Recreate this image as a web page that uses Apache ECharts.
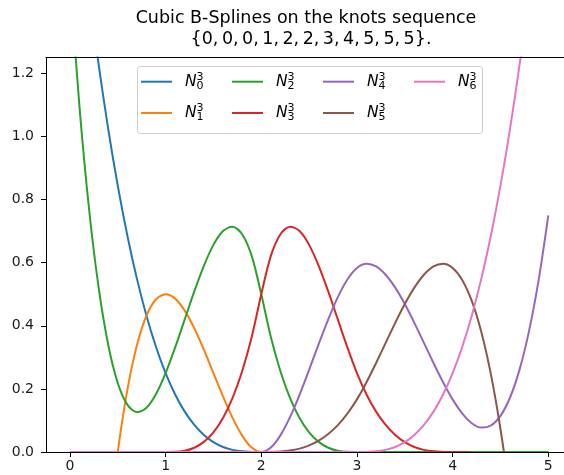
<!DOCTYPE html>
<html>
<head>
<meta charset="utf-8">
<script src="https://cdn.jsdelivr.net/npm/echarts@6/dist/echarts.min.js"></script>
<style>
  html, body { margin: 0; padding: 0; background: #ffffff; }
  #chart { width: 564px; height: 475px; }
</style>
</head>
<body>
<div id="chart"></div>
<script>
// Sample positions along the parameter axis
const xs = [0.0, 0.1, 0.2, 0.3, 0.4, 0.5, 0.6, 0.7, 0.8, 0.9,
            1.0, 1.1, 1.2, 1.3, 1.4, 1.5, 1.6, 1.7, 1.8, 1.9,
            2.0, 2.1, 2.2, 2.3, 2.4, 2.5, 2.6, 2.7, 2.8, 2.9,
            3.0, 3.1, 3.2, 3.3, 3.4, 3.5, 3.6, 3.7, 3.8, 3.9,
            4.0, 4.1, 4.2, 4.3, 4.4, 4.5, 4.6, 4.7, 4.8, 4.9, 5.0];

// Basis function values at each sample position
const n0 = [2.0, 1.7148, 1.458, 1.2283, 1.024, 0.8438, 0.686, 0.5493, 0.432, 0.3328,
            0.25, 0.1823, 0.128, 0.0858, 0.054, 0.0313, 0.016, 0.0068, 0.002, 0.0003,
            0, 0, 0, 0, 0, 0, 0, 0, 0, 0,
            0, 0, 0, 0, 0, 0, 0, 0, 0, 0,
            0, 0, 0, 0, 0, 0, 0, 0, 0, 0, 0];
const n1 = [-2.0, -1.444, -0.972, -0.578, -0.256, 0, 0.196, 0.338, 0.432, 0.484,
            0.5, 0.486, 0.448, 0.392, 0.324, 0.25, 0.176, 0.108, 0.052, 0.014,
            0, 0, 0, 0, 0, 0, 0, 0, 0, 0,
            0, 0, 0, 0, 0, 0, 0, 0, 0, 0,
            0, 0, 0, 0, 0, 0, 0, 0, 0, 0, 0];
const n2 = [1.5, 1.0938, 0.77, 0.5213, 0.34, 0.2188, 0.15, 0.1263, 0.14, 0.1838,
            0.25, 0.3313, 0.42, 0.5088, 0.59, 0.6563, 0.7, 0.7138, 0.69, 0.6213,
            0.5, 0.3645, 0.256, 0.1715, 0.108, 0.0625, 0.032, 0.0135, 0.004, 0.0005,
            0, 0, 0, 0, 0, 0, 0, 0, 0, 0,
            0, 0, 0, 0, 0, 0, 0, 0, 0, 0, 0];
const n3 = [-0.5, -0.3645, -0.256, -0.1715, -0.108, -0.0625, -0.032, -0.0135, -0.004, -0.0005,
            0, 0.0005, 0.004, 0.0135, 0.032, 0.0625, 0.108, 0.1715, 0.256, 0.3645,
            0.5, 0.6213, 0.69, 0.7138, 0.7, 0.6563, 0.59, 0.5088, 0.42, 0.3313,
            0.25, 0.1823, 0.128, 0.0858, 0.054, 0.0313, 0.016, 0.0068, 0.002, 0.0003,
            0, -0.0003, -0.002, -0.0068, -0.016, -0.0313, -0.054, -0.0858, -0.128, -0.1823, -0.25];
const n4 = [0, 0, 0, 0, 0, 0, 0, 0, 0, 0,
            0, 0, 0, 0, 0, 0, 0, 0, 0, 0,
            0, 0.0141, 0.0527, 0.1103, 0.1813, 0.2604, 0.342, 0.4206, 0.4907, 0.5468,
            0.5833, 0.5964, 0.588, 0.5616, 0.5207, 0.4688, 0.4093, 0.3459, 0.282, 0.2211,
            0.1667, 0.1223, 0.0913, 0.0774, 0.084, 0.1146, 0.1727, 0.2618, 0.3853, 0.5469, 0.75];
const n5 = [0, 0, 0, 0, 0, 0, 0, 0, 0, 0,
            0, 0, 0, 0, 0, 0, 0, 0, 0, 0,
            0, 0.0002, 0.0013, 0.0045, 0.0107, 0.0208, 0.036, 0.0572, 0.0853, 0.1215,
            0.1667, 0.2211, 0.282, 0.3459, 0.4093, 0.4688, 0.5207, 0.5616, 0.588, 0.5964,
            0.5833, 0.5453, 0.4787, 0.3801, 0.246, 0.0729, -0.1427, -0.4043, -0.7153, -1.0794, -1.5];
const n6 = [0, 0, 0, 0, 0, 0, 0, 0, 0, 0,
            0, 0, 0, 0, 0, 0, 0, 0, 0, 0,
            0, 0, 0, 0, 0, 0, 0, 0, 0, 0,
            0, 0.0003, 0.002, 0.0068, 0.016, 0.0313, 0.054, 0.0858, 0.128, 0.1823,
            0.25, 0.3328, 0.432, 0.5493, 0.686, 0.8438, 1.024, 1.2283, 1.458, 1.7148, 2.0];

const basisValues = [n0, n1, n2, n3, n4, n5, n6];
const basisIndex = ['0', '1', '2', '3', '4', '5', '6'];
const basisDegree = '3';
const palette = ['#1f77b4', '#ff7f0e', '#2ca02c', '#d62728', '#9467bd', '#8c564b', '#e377c2'];

const xTicks = [0, 1, 2, 3, 4, 5];
const yTicks = [0, 0.2, 0.4, 0.6, 0.8, 1.0, 1.2];

const titleLine1 = 'Cubic B-Splines on the knots sequence';
const titleLine2 = '{0,\u20090,\u20090,\u20091,\u20092,\u20092,\u20093,\u20094,\u20095,\u20095,\u20095}.';

const FONT = "'DejaVu Sans', 'Liberation Sans', sans-serif";

const chart = echarts.init(document.getElementById('chart'), null, { renderer: 'canvas' });

const series = basisValues.map((vals, i) => ({
  name: 'N' + basisIndex[i],
  type: 'line',
  data: xs.map((x, k) => [x, vals[k]]),
  showSymbol: false,
  smooth: 0.3,
  clip: true,
  lineStyle: { color: palette[i], width: 2 },
  itemStyle: { color: palette[i] },
  z: 2 + i * 0.01,
  animation: false
}));

// Legend drawn as graphic elements: 4 columns, filled column by column
const legendLeft = 137, legendTop = 66, legendW = 345, legendH = 67;
const colStart = [141, 232, 323, 414];
const rowY = [81.7, 113];
const legendChildren = [{
  type: 'rect',
  shape: { x: legendLeft + 0.5, y: legendTop + 0.5, width: legendW, height: legendH, r: 3 },
  style: { fill: 'rgba(255,255,255,0.8)', stroke: '#cccccc', lineWidth: 1 },
  z: 100
}];
basisIndex.forEach((idx, i) => {
  const c = Math.floor(i / 2), r = i % 2;
  const x0 = colStart[c], y0 = rowY[r];
  legendChildren.push({
    type: 'line',
    shape: { x1: x0, y1: y0, x2: x0 + 31, y2: y0 },
    style: { stroke: palette[i], lineWidth: 2 },
    z: 101
  });
  legendChildren.push({
    type: 'text', x: x0 + 44, y: y0,
    style: { text: 'N', fontSize: 15.5, fontStyle: 'italic', fontFamily: FONT, fill: '#000',
             align: 'left', verticalAlign: 'middle' },
    z: 101
  });
  legendChildren.push({
    type: 'text', x: x0 + 55.5, y: y0 - 5,
    style: { text: basisDegree, fontSize: 11, fontFamily: FONT, fill: '#000',
             align: 'left', verticalAlign: 'middle' },
    z: 101
  });
  legendChildren.push({
    type: 'text', x: x0 + 55.5, y: y0 + 4,
    style: { text: idx, fontSize: 11, fontFamily: FONT, fill: '#000',
             align: 'left', verticalAlign: 'middle' },
    z: 101
  });
});

// The plotting area runs past the right edge of the canvas, so the visible
// x range ends a little after 5.
const option = {
  animation: false,
  backgroundColor: '#ffffff',
  textStyle: { fontFamily: FONT },
  grid: { left: 46, top: 57.5, right: 0, height: 394.5, show: false, containLabel: false },
  xAxis: [{
    type: 'value', min: -0.25, max: 5.164, position: 'bottom',
    axisLine: { show: true, onZero: false, lineStyle: { color: '#000', width: 1 } },
    axisTick: { show: true, inside: false, length: 5, customValues: xTicks, lineStyle: { color: '#000', width: 1 } },
    axisLabel: { show: true, customValues: xTicks, margin: 7, fontSize: 14, color: '#1a1a1a', fontFamily: FONT },
    splitLine: { show: false },
    z: 10
  }, {
    type: 'value', min: -0.25, max: 5.164, position: 'top',
    axisLine: { show: true, onZero: false, lineStyle: { color: '#000', width: 1 } },
    axisTick: { show: false }, axisLabel: { show: false }, splitLine: { show: false },
    z: 10
  }],
  yAxis: {
    type: 'value', min: 0, max: 1.25,
    axisLine: { show: true, onZero: false, lineStyle: { color: '#000', width: 1 } },
    axisTick: { show: true, inside: false, length: 5, customValues: yTicks, lineStyle: { color: '#000', width: 1 } },
    axisLabel: { show: true, customValues: yTicks, margin: 12, fontSize: 14, color: '#1a1a1a', fontFamily: FONT,
                 formatter: v => Number(v).toFixed(1) },
    splitLine: { show: false },
    z: 10
  },
  graphic: [
    { type: 'text', x: 306, y: 18.5,
      style: { text: titleLine1, fontSize: 17.5, fontFamily: FONT, fill: '#000', align: 'center', verticalAlign: 'middle' } },
    { type: 'text', x: 311, y: 39,
      style: { text: titleLine2, fontSize: 17.5, fontFamily: FONT, fill: '#000', align: 'center', verticalAlign: 'middle' } },
    { type: 'group', children: legendChildren }
  ],
  series: series
};

chart.setOption(option);
</script>
</body>
</html>
